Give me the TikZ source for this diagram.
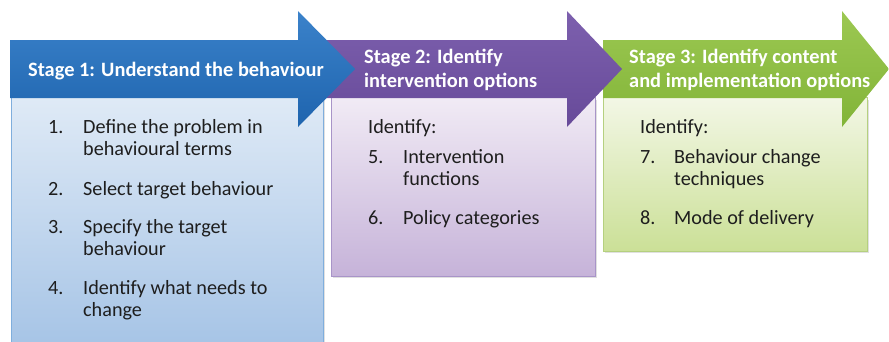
\documentclass[tikz,border=0pt]{standalone}
\usepackage{fontspec}
\setmainfont{Carlito}
\definecolor{bluetop}{HTML}{3B82CA}
\definecolor{bluebot}{HTML}{1E64AE}
\definecolor{purtop}{HTML}{7D60AE}
\definecolor{purbot}{HTML}{674A99}
\definecolor{grntop}{HTML}{9CC852}
\definecolor{grnbot}{HTML}{82B438}
\definecolor{boxatop}{HTML}{DFEAF6}
\definecolor{boxabot}{HTML}{A6C4E6}
\definecolor{boxaline}{HTML}{7FAEDD}
\definecolor{boxbtop}{HTML}{F1EBF5}
\definecolor{boxbbot}{HTML}{C6B3D9}
\definecolor{boxbline}{HTML}{A894C8}
\definecolor{boxctop}{HTML}{F3F7E6}
\definecolor{boxcbot}{HTML}{CBE097}
\definecolor{boxcline}{HTML}{B5D07F}
\definecolor{bodytext}{HTML}{1E1E1E}
\tikzset{
  stagebox/.style={line width=0.8pt},
  shadowbox/.style={fill=black!12},
  headtext/.style={anchor=base west, inner sep=0pt, text=white, font=\fontsize{20.4}{24}\selectfont\bfseries, align=left},
  bodynum/.style={anchor=base west, inner sep=0pt, text=bodytext, font=\fontsize{20.2}{22}\selectfont},
  bodyline/.style={anchor=base west, inner sep=0pt, text=bodytext, font=\fontsize{20.2}{22}\selectfont}
}
\newcommand{\itemtext}[1]{\parbox[t]{200pt}{\raggedright #1}}
\begin{document}
\begin{tikzpicture}[x=1pt,y=-1pt]
\useasboundingbox (0,0) rectangle (889,341);
\clip (0,0) rectangle (889,341);
% shadows
\fill[shadowbox] (13,100) rectangle (325,345);
\fill[shadowbox] (333,100) rectangle (597,278);
\fill[shadowbox] (605,100) rectangle (869,253);
% boxes
\path[stagebox, draw=boxaline, top color=boxatop, bottom color=boxabot] (11,97) rectangle (323,346);
\path[stagebox, draw=boxbline, top color=boxbtop, bottom color=boxbbot] (331,97) rectangle (595,276);
\path[stagebox, draw=boxcline, top color=boxctop, bottom color=boxcbot] (603,97) rectangle (867,251);
% arrows
\path[top color=grntop, bottom color=grnbot] (603,40) -- (842,40) -- (842,11) -- (889,69) -- (842,127) -- (842,98) -- (603,98) -- cycle;
\path[top color=purtop, bottom color=purbot] (325,40) -- (567,40) -- (567,11) -- (622,69) -- (567,127) -- (567,98) -- (325,98) -- cycle;
\path[top color=bluetop, bottom color=bluebot] (10,40) -- (298,40) -- (298,11) -- (355,69) -- (298,127) -- (298,98) -- (10,98) -- cycle;
% headers
\node[headtext] (h1) at (28,76) {Stage 1: Understand the behaviour};
\node[headtext] (h2) at (364,63) {\parbox[t]{200pt}{Stage 2: Identify\\intervention options}};
\node[headtext] (h3) at (629,63) {\parbox[t]{250pt}{Stage 3: Identify content\\and implementation options}};
% stage 1 items
\node[bodynum] (n1) at (48,133) {1.};
\node[bodyline] (t1) at (83,133) {\itemtext{Define the problem in\\behavioural terms}};
\node[bodynum] (n2) at (48,195) {2.};
\node[bodyline] (t2) at (83,195) {\itemtext{Select target behaviour}};
\node[bodynum] (n3) at (48,233) {3.};
\node[bodyline] (t3) at (83,233) {\itemtext{Specify the target\\behaviour}};
\node[bodynum] (n4) at (48,294) {4.};
\node[bodyline] (t4) at (83,294) {\itemtext{Identify what needs to\\change}};
% stage 2 items
\node[bodyline] (i2) at (368,133) {Identify:};
\node[bodynum] (n5) at (368,163) {5.};
\node[bodyline] (t5) at (403,163) {\itemtext{Intervention\\functions}};
\node[bodynum] (n6) at (368,224) {6.};
\node[bodyline] (t6) at (403,224) {\itemtext{Policy categories}};
% stage 3 items
\node[bodyline] (i3) at (640,133) {Identify:};
\node[bodynum] (n7) at (640,163) {7.};
\node[bodyline] (t7) at (674,163) {\itemtext{Behaviour change\\techniques}};
\node[bodynum] (n8) at (640,224) {8.};
\node[bodyline] (t8) at (674,224) {\itemtext{Mode of delivery}};
\end{tikzpicture}
\end{document}
